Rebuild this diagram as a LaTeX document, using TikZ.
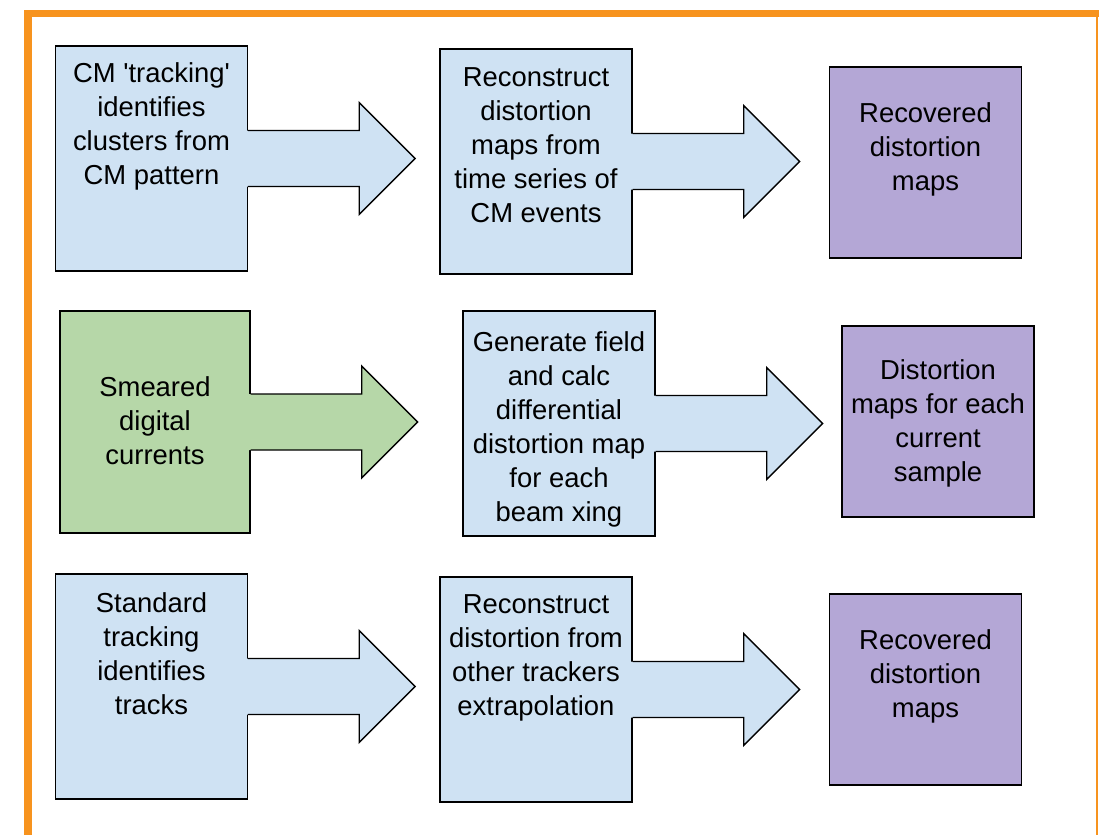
\documentclass[tikz,border=0pt]{standalone}
\usepackage{fontspec}
\setmainfont{Liberation Sans}
\usetikzlibrary{positioning}

\definecolor{stepblue}{HTML}{CFE2F3}
\definecolor{stepgreen}{HTML}{B6D7A8}
\definecolor{steppurple}{HTML}{B4A7D6}
\definecolor{frameorange}{HTML}{F7931E}

\begin{document}
\begin{tikzpicture}[
    x=0.025cm, y=-0.025cm,
    box/.style={rectangle, draw, line width=1pt, minimum width=4.8cm, minimum height=5.625cm, inner sep=0pt},
    result/.style={box, fill=steppurple, minimum height=4.775cm},
    txt/.style={align=center, inner sep=0pt, font=\fontsize{19.5}{24.2}\selectfont}
]
    \useasboundingbox (0,0) rectangle (1099,835);

    % Orange frame
    \draw[frameorange, line width=0.19cm, line join=miter] (28,835) -- (28,13.5) -- (1099,13.5);
    \draw[frameorange, line width=1.2pt] (1097,13.5) -- (1097,835);

    % Boxes
    \node[box, fill=stepblue] (cmtrack) at (151.5,158.5) {};
    \node[box, fill=stepblue] (cmrecon) at (536,161.5) {};
    \node[result] (cmmaps) at (925.5,162.5) {};
    \node[box, fill=stepgreen, minimum width=4.75cm, minimum height=5.55cm] (smeared) at (155,422) {};
    \node[box, fill=stepblue] (genfield) at (559,423.5) {};
    \node[result] (curmaps) at (938,421.5) {};
    \node[box, fill=stepblue] (stdtrack) at (151.5,686.5) {};
    \node[box, fill=stepblue] (trkrecon) at (536,689.5) {};
    \node[result] (trkmaps) at (925.5,689.5) {};

    % Block arrows grown out of the boxes
    \foreach \n/\c in {cmtrack/stepblue, cmrecon/stepblue, smeared/stepgreen, genfield/stepblue, stdtrack/stepblue, trkrecon/stepblue} {
        \fill[\c] (\n.east) ++(-1.5,-28) -- ++(112.5,0) -- ++(0,-28) -- ++(56,56) -- ++(-56,56) -- ++(0,-28) -- ++(-112.5,0) -- cycle;
        \draw[line width=1pt, line join=miter] (\n.east) ++(0,-28) -- ++(111,0) -- ++(0,-28) -- ++(56,56) -- ++(-56,56) -- ++(0,-28) -- ++(-111,0);
    }

    % Texts
    \node[txt, below=0.425cm of cmtrack.north] (cmtrack-txt) {CM \textquotesingle tracking\textquotesingle\\identifies\\clusters from\\CM pattern};
    \node[txt, below=0.475cm of cmrecon.north] (cmrecon-txt) {Reconstruct\\distortion\\maps from\\time series of\\CM events};
    \node[txt, below=0.9cm of cmmaps.north] (cmmaps-txt) {Recovered\\distortion\\maps};
    \node[txt, below=1.65cm of smeared.north] (smeared-txt) {Smeared\\digital\\currents};
    \node[txt, below=0.525cm of genfield.north] (genfield-txt) {Generate field\\and calc\\differential\\distortion map\\for each\\beam xing};
    \node[txt, below=0.85cm of curmaps.north] (curmaps-txt) {Distortion\\maps for each\\current\\sample};
    \node[txt, below=0.475cm of stdtrack.north] (stdtrack-txt) {Standard\\tracking\\identifies\\tracks};
    \node[txt, below=0.45cm of trkrecon.north] (trkrecon-txt) {Reconstruct\\distortion from\\other trackers\\extrapolation};
    \node[txt, below=0.9cm of trkmaps.north] (trkmaps-txt) {Recovered\\distortion\\maps};
\end{tikzpicture}
\end{document}
